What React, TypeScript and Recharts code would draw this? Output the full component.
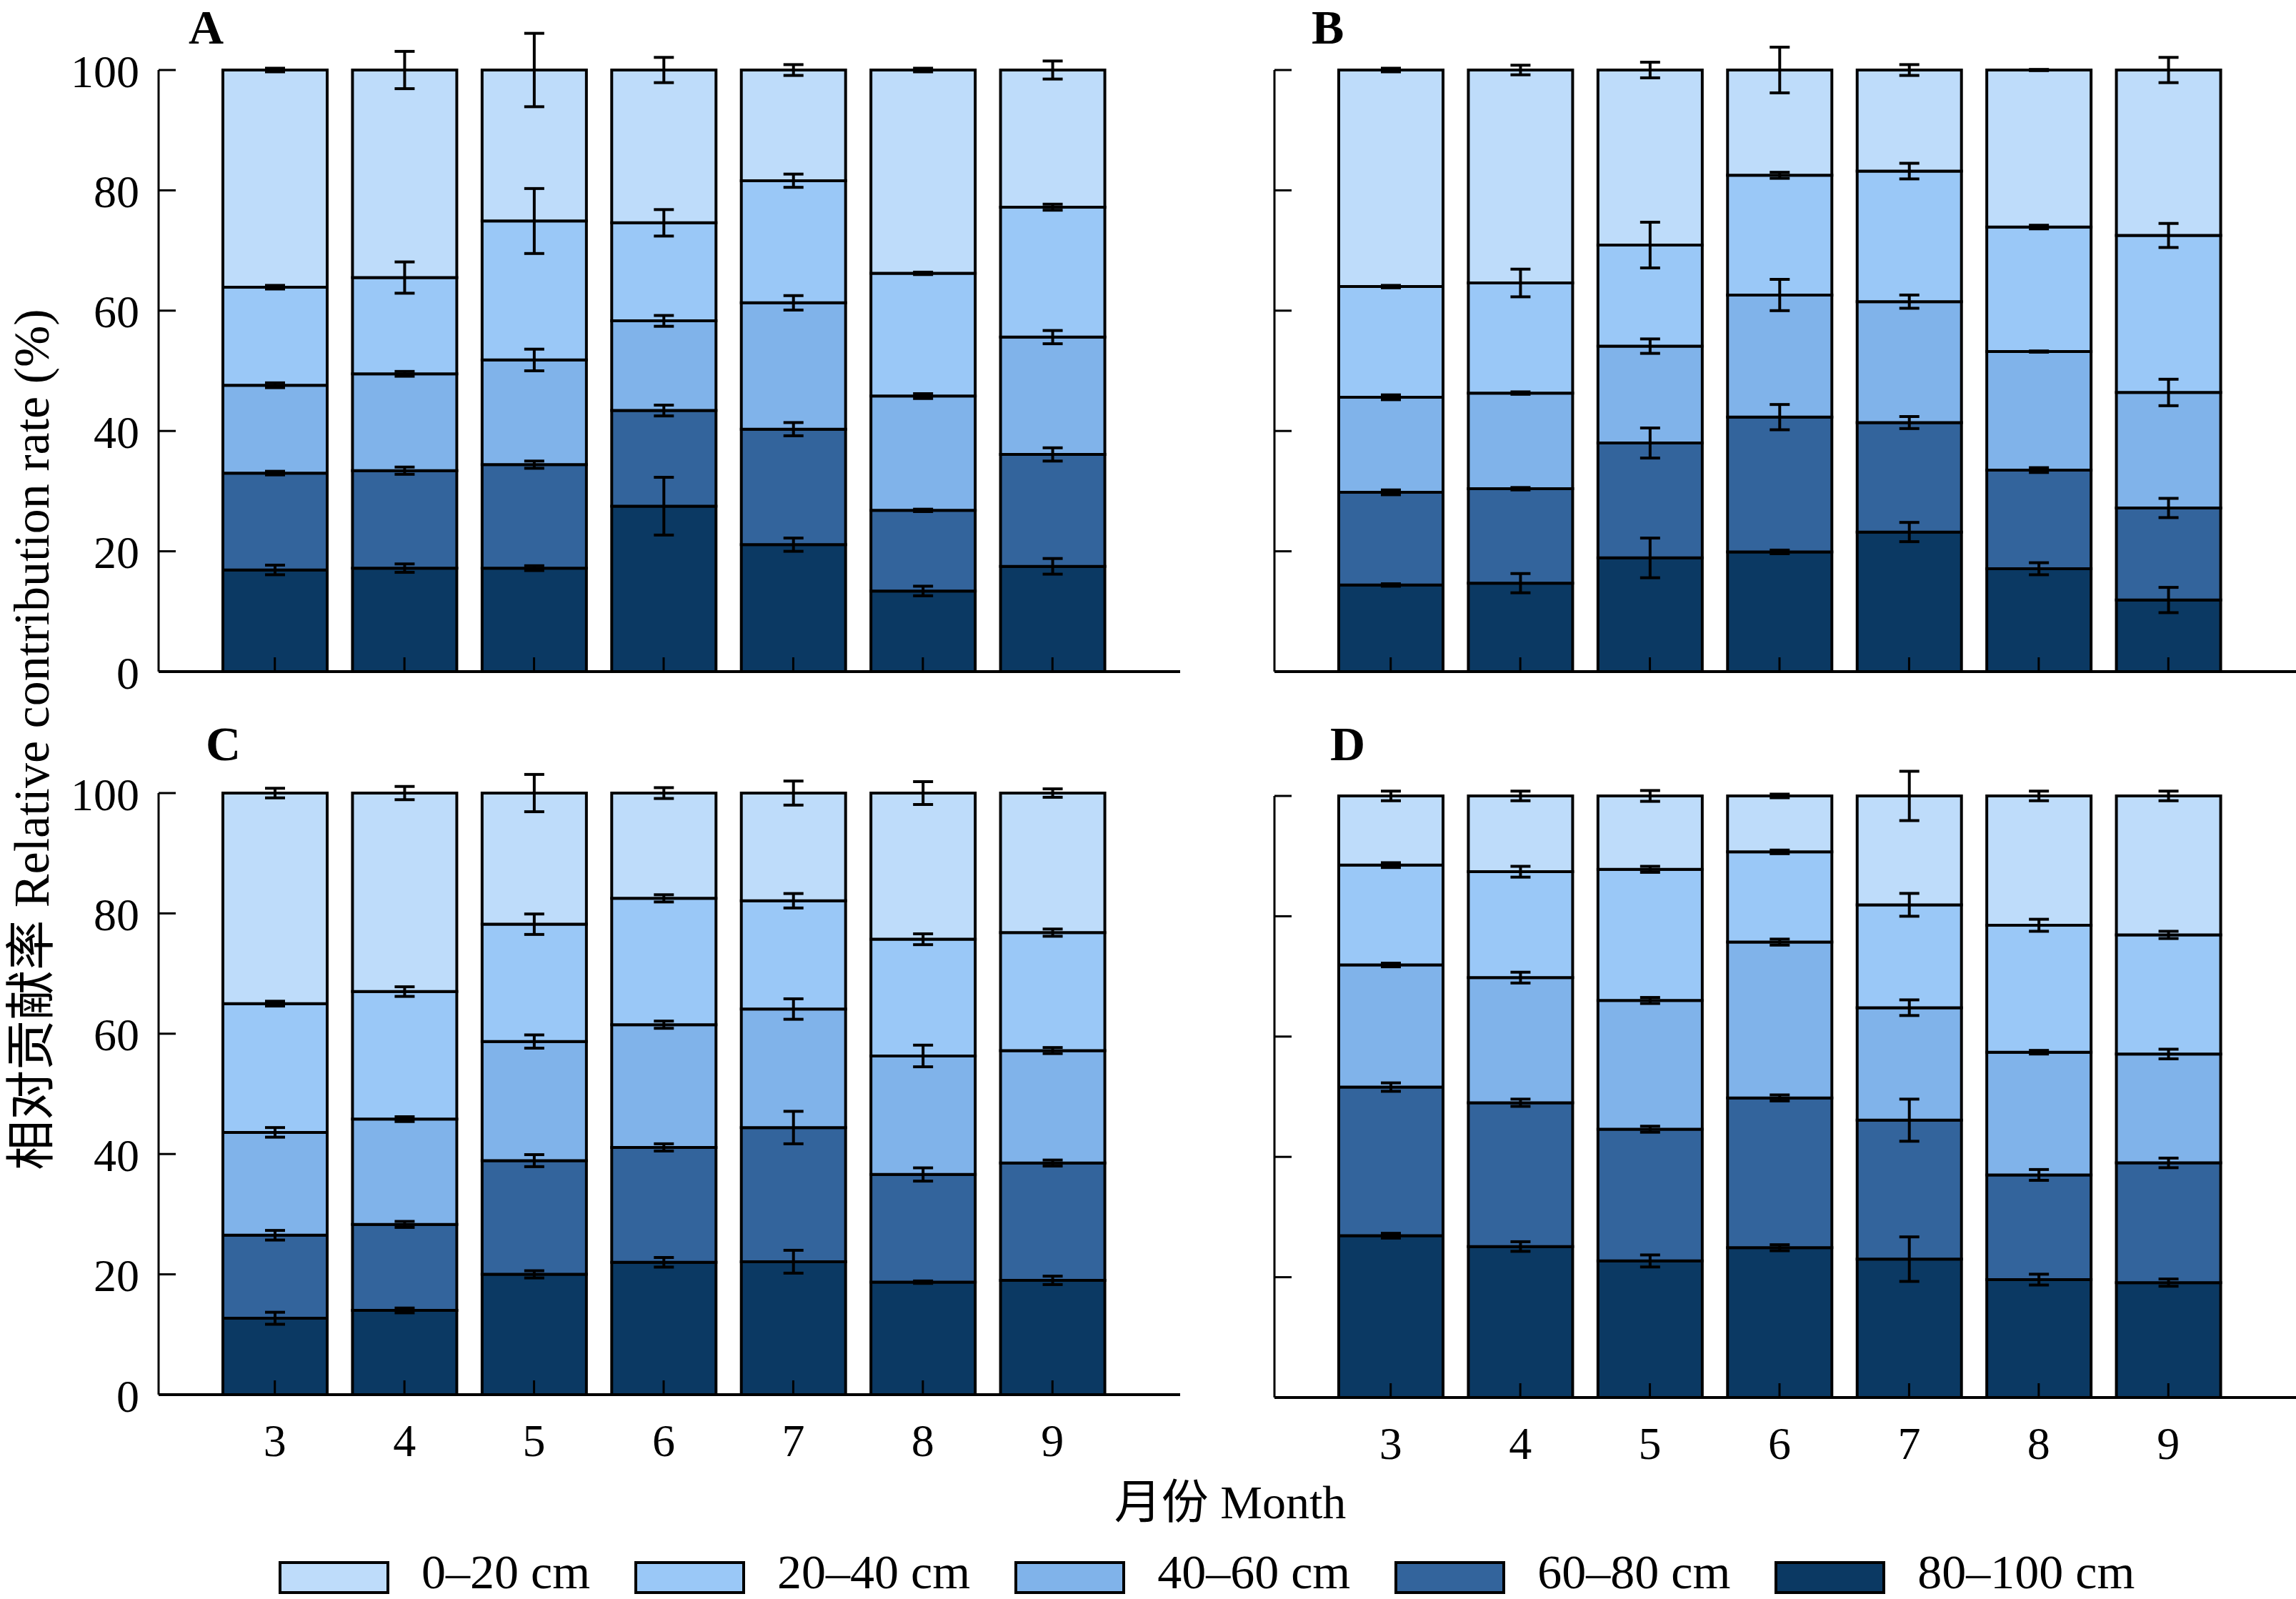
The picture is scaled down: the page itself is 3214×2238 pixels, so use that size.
import React from 'react';
import { ComposedChart, Bar, XAxis, YAxis } from 'recharts';

// months on the x axis
const months = ['3', '4', '5', '6', '7', '8', '9'];
// soil layers, bottom of the stack first
const layers = ['80–100 cm', '60–80 cm', '40–60 cm', '20–40 cm', '0–20 cm'];
const colors = ['#0b3963', '#33649c', '#80b3ea', '#9ac8f7', '#bedcfa'];
const yTicks = [0, 20, 40, 60, 80, 100];

// Panel A: share of each layer (%)
const a_80_100 = [16.9, 17.2, 17.2, 27.5, 21.1, 13.4, 17.5];
const a_60_80 = [16.1, 16.2, 17.2, 15.9, 19.2, 13.4, 18.6];
const a_40_60 = [14.6, 16.1, 17.4, 14.9, 21.0, 19.0, 19.5];
const a_20_40 = [16.3, 16.0, 23.1, 16.3, 20.3, 20.4, 21.6];
const a_0_20 = [36.1, 34.5, 25.1, 25.4, 18.4, 33.8, 22.8];
const aE_80_100 = [0.8, 0.7, 0.4, 4.8, 1.1, 0.8, 1.3];
const aE_60_80 = [0.3, 0.6, 0.6, 0.9, 1.1, 0.2, 1.1];
const aE_40_60 = [0.4, 0.4, 1.8, 0.9, 1.2, 0.4, 1.1];
const aE_20_40 = [0.3, 2.6, 5.4, 2.2, 1.1, 0.2, 0.5];
const aE_0_20 = [0.3, 3.1, 6.1, 2.1, 0.9, 0.3, 1.5];

// Panel B
const b_80_100 = [14.4, 14.7, 18.9, 19.9, 23.2, 17.1, 11.9];
const b_60_80 = [15.4, 15.7, 19.1, 22.4, 18.2, 16.4, 15.3];
const b_40_60 = [15.8, 15.9, 16.1, 20.3, 20.1, 19.7, 19.2];
const b_20_40 = [18.4, 18.3, 16.8, 19.9, 21.7, 20.7, 26.1];
const b_0_20 = [36.0, 35.4, 29.1, 17.5, 16.8, 26.1, 27.5];
const bE_80_100 = [0.2, 1.6, 3.3, 0.3, 1.6, 1.0, 2.1];
const bE_60_80 = [0.4, 0.2, 2.5, 2.1, 1.0, 0.4, 1.6];
const bE_40_60 = [0.4, 0.2, 1.2, 2.6, 1.1, 0.1, 2.2];
const bE_20_40 = [0.2, 2.3, 3.8, 0.5, 1.3, 0.3, 2.0];
const bE_0_20 = [0.3, 0.8, 1.3, 3.8, 0.9, 0.1, 2.1];

// Panel C
const c_80_100 = [12.7, 14.0, 20.0, 22.0, 22.1, 18.7, 19.0];
const c_60_80 = [13.8, 14.3, 18.9, 19.1, 22.3, 17.9, 19.5];
const c_40_60 = [17.1, 17.5, 19.8, 20.4, 19.7, 19.7, 18.7];
const c_20_40 = [21.4, 21.2, 19.5, 21.0, 18.0, 19.4, 19.6];
const c_0_20 = [35.0, 33.0, 21.8, 17.5, 17.9, 24.3, 23.2];
const cE_80_100 = [1.0, 0.4, 0.6, 0.8, 1.9, 0.2, 0.7];
const cE_60_80 = [0.8, 0.5, 1.0, 0.6, 2.7, 1.1, 0.5];
const cE_40_60 = [0.8, 0.4, 1.1, 0.6, 1.7, 1.8, 0.5];
const cE_20_40 = [0.4, 0.8, 1.7, 0.6, 1.2, 0.9, 0.6];
const cE_0_20 = [0.8, 1.1, 3.1, 0.9, 2.0, 1.9, 0.7];

// Panel D
const d_80_100 = [26.9, 25.1, 22.7, 24.9, 23.0, 19.6, 19.1];
const d_60_80 = [24.7, 23.9, 21.9, 24.9, 23.1, 17.4, 19.9];
const d_40_60 = [20.3, 20.8, 21.4, 25.9, 18.7, 20.4, 18.1];
const d_20_40 = [16.6, 17.6, 21.8, 15.0, 17.1, 21.1, 19.8];
const d_0_20 = [11.5, 12.6, 12.2, 9.3, 18.1, 21.5, 23.1];
const dE_80_100 = [0.4, 0.8, 1.0, 0.5, 3.7, 0.9, 0.6];
const dE_60_80 = [0.7, 0.6, 0.5, 0.5, 3.5, 0.9, 0.8];
const dE_40_60 = [0.3, 0.9, 0.5, 0.5, 1.3, 0.3, 0.8];
const dE_20_40 = [0.4, 0.9, 0.5, 0.3, 1.9, 1.0, 0.6];
const dE_0_20 = [0.8, 0.8, 0.9, 0.3, 4.1, 0.8, 0.8];

const serif = "'Liberation Serif', 'Times New Roman', 'Noto Sans CJK SC', serif";

// s = segment share, e = its standard error
function buildRows(segs: number[][], errs: number[][]) {
  return months.map((m, i) => {
    const row: any = { month: m };
    segs.forEach((s, k) => {
      row['s' + k] = s[i];
      row['e' + k] = errs[k][i];
    });
    return row;
  });
}

const rowsA = buildRows(
  [a_80_100, a_60_80, a_40_60, a_20_40, a_0_20],
  [aE_80_100, aE_60_80, aE_40_60, aE_20_40, aE_0_20]
);
const rowsB = buildRows(
  [b_80_100, b_60_80, b_40_60, b_20_40, b_0_20],
  [bE_80_100, bE_60_80, bE_40_60, bE_20_40, bE_0_20]
);
const rowsC = buildRows(
  [c_80_100, c_60_80, c_40_60, c_20_40, c_0_20],
  [cE_80_100, cE_60_80, cE_40_60, cE_20_40, cE_0_20]
);
const rowsD = buildRows(
  [d_80_100, d_60_80, d_40_60, d_20_40, d_0_20],
  [dE_80_100, dE_60_80, dE_40_60, dE_20_40, dE_0_20]
);

// ticks point into the plot
const XTick = (props: any) => {
  const { x, y, payload, showLabel } = props;
  return (
    <g>
      <line x1={x} y1={y} x2={x} y2={y - 20} stroke="#000" strokeWidth={3} />
      {showLabel && (
        <text x={x} y={y + 64} textAnchor="middle" dominantBaseline="central" fontSize={64} fontFamily={serif} fill="#000">
          {payload.value}
        </text>
      )}
    </g>
  );
};

const YTick = (props: any) => {
  const { x, y, payload, showLabel } = props;
  return (
    <g>
      <line x1={x} y1={y} x2={x + 24} y2={y} stroke="#000" strokeWidth={3} />
      {showLabel && (
        <text x={x - 27} y={y + 2} textAnchor="end" dominantBaseline="central" fontSize={64} fontFamily={serif} fill="#000">
          {payload.value}
        </text>
      )}
    </g>
  );
};

// error bar at the top of a stacked segment; px per unit comes from the bar's own height
function errorMark(props: any, rows: any[], k: number) {
  const vb = props.viewBox && props.viewBox.height != null ? props.viewBox : props;
  const { x, y, width, height } = vb;
  const row = rows[props.index];
  if (!row || !height) return null;
  const half = (Math.abs(height) / row['s' + k]) * row['e' + k];
  const cx = x + width / 2;
  const top = Math.min(y, y + height);
  return (
    <g key={'err' + k + '-' + props.index} stroke="#000" strokeWidth={4}>
      <line x1={cx} x2={cx} y1={top - half} y2={top + half} />
      <line x1={cx - 14} x2={cx + 14} y1={top - half} y2={top - half} />
      <line x1={cx - 14} x2={cx + 14} y1={top + half} y2={top + half} />
    </g>
  );
}

interface PanelProps {
  rows: any[];
  left: number;
  top: number;
  height: number;
  axisHeight: number;
  showX: boolean;
  showY: boolean;
}

function Panel({ rows, left, top, height, axisHeight, showX, showY }: PanelProps) {
  return (
    <div style={{ position: 'absolute', left, top }}>
      <ComposedChart width={1660} height={height} data={rows} margin={{ top: 98, right: 8, left: 0, bottom: 0 }}>
        <XAxis
          dataKey="month"
          type="category"
          height={axisHeight}
          padding={{ left: 72, right: 88 }}
          axisLine={{ stroke: '#000', strokeWidth: 4 }}
          tickLine={false}
          tickSize={0}
          tickMargin={0}
          interval={0}
          tick={(p: any) => <XTick {...p} showLabel={showX} />}
        />
        {/* second, hidden category axis for the overlay that carries the error bars */}
        <XAxis xAxisId="err" dataKey="month" type="category" hide padding={{ left: 72, right: 88 }} />
        <YAxis
          type="number"
          domain={[0, 100]}
          ticks={yTicks}
          width={222}
          axisLine={{ stroke: '#000', strokeWidth: 3 }}
          tickLine={false}
          tickSize={0}
          tickMargin={0}
          interval={0}
          tick={(p: any) => <YTick {...p} showLabel={showY} />}
        />
        {layers.map((name, k) => (
          <Bar
            key={name}
            dataKey={'s' + k}
            name={name}
            stackId="depth"
            fill={colors[k]}
            stroke="#000"
            strokeWidth={4}
            barSize={146}
            isAnimationActive={false}
          />
        ))}
        {layers.map((name, k) => (
          <Bar
            key={'e' + name}
            xAxisId="err"
            dataKey={'s' + k}
            stackId="errs"
            fill="none"
            stroke="none"
            barSize={146}
            legendType="none"
            isAnimationActive={false}
            label={(p: any) => errorMark(p, rows, k)}
          />
        ))}
      </ComposedChart>
    </div>
  );
}

const letterStyle: React.CSSProperties = {
  position: 'absolute',
  fontFamily: serif,
  fontWeight: 'bold',
  fontSize: 68,
  lineHeight: 1,
  color: '#000',
};

export default function App() {
  const legendItems = [...layers].reverse().map((name) => ({ name, color: colors[layers.indexOf(name)] }));
  return (
    <div style={{ position: 'absolute', left: 0, top: 0, width: 3214, height: 2238, background: '#fff', overflow: 'hidden' }}>
      <Panel rows={rowsA} left={0} top={0} height={1000} axisHeight={60} showX={false} showY={true} />
      <Panel rows={rowsB} left={1562} top={0} height={1000} axisHeight={60} showX={false} showY={false} />
      <Panel rows={rowsC} left={0} top={1012} height={1100} axisHeight={160} showX={true} showY={true} />
      <Panel rows={rowsD} left={1562} top={1016} height={1100} axisHeight={160} showX={true} showY={false} />

      <div style={{ ...letterStyle, left: 264, top: 4 }}>A</div>
      <div style={{ ...letterStyle, left: 1836, top: 4 }}>B</div>
      <div style={{ ...letterStyle, left: 288, top: 1007 }}>C</div>
      <div style={{ ...letterStyle, left: 1862, top: 1007 }}>D</div>

      <div
        style={{
          position: 'absolute',
          left: 45,
          top: 1035,
          transform: 'translate(-50%, -50%) rotate(-90deg)',
          whiteSpace: 'nowrap',
          fontFamily: serif,
          fontSize: 70,
          lineHeight: 1,
          color: '#000',
        }}
      >
        相对贡献率 Relative contribution rate (%)
      </div>

      <div
        style={{
          position: 'absolute',
          left: 1722,
          top: 2103,
          transform: 'translate(-50%, -50%)',
          whiteSpace: 'nowrap',
          fontFamily: serif,
          fontSize: 66,
          lineHeight: 1,
          color: '#000',
        }}
      >
        月份 Month
      </div>

      <div style={{ position: 'absolute', left: 390, top: 2185, display: 'flex', alignItems: 'center', height: 46 }}>
        {legendItems.map((it) => (
          <div key={it.name} style={{ display: 'flex', alignItems: 'center', marginRight: 62 }}>
            <div style={{ width: 155, height: 46, boxSizing: 'border-box', border: '4px solid #000', background: it.color }} />
            <span
              style={{
                marginLeft: 45,
                position: 'relative',
                top: -8,
                fontFamily: serif,
                fontSize: 68,
                lineHeight: 1,
                whiteSpace: 'nowrap',
              }}
            >
              {it.name}
            </span>
          </div>
        ))}
      </div>
    </div>
  );
}
